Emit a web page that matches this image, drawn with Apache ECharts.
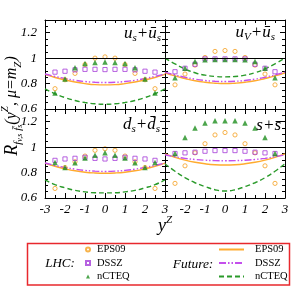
<!DOCTYPE html>
<html><head><meta charset="utf-8">
<script src="https://cdn.jsdelivr.net/npm/echarts@6/dist/echarts.min.js"></script>
<style>html,body{margin:0;padding:0;background:#fff}#c{width:293px;height:287px}</style>
</head><body><div id="c"></div>
<script>
// ---- data ----
const xPoints = [-2.5,-2,-1.5,-1,-0.5,0,0.5,1,1.5,2,2.5];
const xCurve  = [-3,-2.5,-2,-1.5,-1,-0.5,0,0.5,1,1.5,2,2.5,3];
const xTickLabels = ['-3','-2','-1','0','1','2','3'];
const yTickLabels = ['0.6','0.8','1','1.2'];
const legendNames = ['EPS09','DSSZ','nCTEQ'];

// panel 1: u_s + ubar_s
const lhcEps_us   = [0.76,0.83,0.88,0.95,1.0,1.01,1.0,0.95,0.88,0.83,0.76];
const lhcDssz_us  = [0.89,0.897,0.908,0.912,0.912,0.91,0.912,0.912,0.908,0.897,0.89];
const lhcNcteq_us = [0.725,0.835,0.925,0.957,0.965,0.97,0.965,0.957,0.925,0.835,0.725];
const futEps_us   = [0.872,0.848,0.828,0.812,0.8,0.792,0.79,0.792,0.8,0.812,0.828,0.848,0.872];
const futDssz_us  = [0.875,0.856,0.84,0.826,0.816,0.81,0.808,0.81,0.816,0.826,0.84,0.856,0.875];
const futNcteq_us = [0.758,0.72,0.69,0.667,0.651,0.641,0.637,0.641,0.651,0.667,0.69,0.72,0.758];

// panel 2: u_v + ubar_s
const lhcEps_uv   = [0.79,0.875,0.945,1.005,1.053,1.06,1.053,1.005,0.945,0.875,0.79];
const lhcDssz_uv  = [0.893,0.92,0.952,0.994,0.994,0.994,0.994,0.994,0.952,0.92,0.893];
const lhcNcteq_uv = [0.845,0.92,0.973,0.988,0.99,0.99,0.99,0.988,0.973,0.92,0.845];
const futEps_uv   = [0.885,0.86,0.84,0.822,0.81,0.803,0.8,0.803,0.81,0.822,0.84,0.86,0.885];
const futDssz_uv  = [0.89,0.868,0.85,0.835,0.824,0.818,0.816,0.818,0.824,0.835,0.85,0.868,0.89];
const futNcteq_uv = [1.0,0.955,0.915,0.885,0.866,0.856,0.853,0.856,0.866,0.885,0.915,0.955,1.0];

// panel 3: d_s + dbar_s
const lhcEps_ds   = [0.675,0.84,0.885,0.93,0.975,0.987,0.975,0.93,0.885,0.84,0.675];
const lhcDssz_ds  = [0.896,0.907,0.912,0.92,0.912,0.907,0.912,0.92,0.912,0.907,0.896];
const lhcNcteq_ds = [0.88,0.84,0.878,0.915,0.936,0.955,0.936,0.915,0.878,0.84,0.88];
const futEps_ds   = [0.875,0.85,0.83,0.814,0.803,0.797,0.795,0.797,0.803,0.814,0.83,0.85,0.875];
const futDssz_ds  = [0.875,0.856,0.84,0.827,0.817,0.811,0.809,0.811,0.817,0.827,0.84,0.856,0.875];
const futNcteq_ds = [0.742,0.705,0.68,0.66,0.648,0.641,0.64,0.641,0.648,0.66,0.68,0.705,0.742];

// panel 4: s + sbar
const lhcEps_s    = [0.715,0.853,0.955,1.027,1.096,1.115,1.096,1.027,0.955,0.853,0.715];
const lhcDssz_s   = [0.95,0.955,0.96,0.968,0.973,0.973,0.973,0.968,0.96,0.955,0.95];
const lhcNcteq_s  = [0.95,1.075,1.15,1.19,1.208,1.208,1.208,1.19,1.15,1.075,0.95];
const futEps_s    = [0.947,0.92,0.898,0.881,0.869,0.862,0.86,0.862,0.869,0.881,0.898,0.92,0.947];
const futDssz_s   = [0.94,0.925,0.912,0.903,0.897,0.894,0.893,0.894,0.897,0.903,0.912,0.925,0.94];
const futNcteq_s  = [0.87,0.81,0.76,0.72,0.69,0.665,0.655,0.665,0.69,0.72,0.76,0.81,0.87];

// ---- styling ----
const F = 'Liberation Serif';
const C_EPS = '#f5a01e', C_DSSZ = '#a43ad8', C_NCTEQ = '#1f8f1f';
const L_EPS = '#ffab2e', L_DSSZ = '#c44fec', L_NCTEQ = '#2a9a2a';

const panels = [
  {lhc:[lhcEps_us,lhcDssz_us,lhcNcteq_us], fut:[futEps_us,futDssz_us,futNcteq_us]},
  {lhc:[lhcEps_uv,lhcDssz_uv,lhcNcteq_uv], fut:[futEps_uv,futDssz_uv,futNcteq_uv]},
  {lhc:[lhcEps_ds,lhcDssz_ds,lhcNcteq_ds], fut:[futEps_ds,futDssz_ds,futNcteq_ds]},
  {lhc:[lhcEps_s,lhcDssz_s,lhcNcteq_s], fut:[futEps_s,futDssz_s,futNcteq_s]}
];
const gridPos = [[45,20],[165,20],[45,109],[165,109]];

const grids = gridPos.map(p => ({left:p[0], top:p[1], width:120, height:89, show:false}));

const tickStyle = {color:'#000', width:1};
function xAx(i, pos, showLabel, hideMin) {
  return {type:'value', gridIndex:i, position:pos, min:-3, max:3, interval:1,
    axisLine:{onZero:false, lineStyle:{color:'#000', width:1}},
    axisTick:{inside:true, length:5, lineStyle:tickStyle},
    minorTick:{show:true, splitNumber:2, length:3, lineStyle:tickStyle},
    splitLine:{show:false}, minorSplitLine:{show:false},
    axisLabel:{show:showLabel, margin:5, showMinLabel:!hideMin, showMaxLabel:true,
      fontFamily:F, fontStyle:'italic', fontSize:13, color:'#000',
      formatter: v => xTickLabels[Math.round(v)+3] || ''}};
}
function yAx(i, pos, showLabel) {
  return {type:'value', gridIndex:i, position:pos, min:0.6, max:1.3, interval:0.2,
    axisLine:{onZero:false, lineStyle:{color:'#000', width:1}},
    axisTick:{inside:true, length:5, lineStyle:tickStyle},
    minorTick:{show:true, splitNumber:4, length:3, lineStyle:tickStyle},
    splitLine:{show:false}, minorSplitLine:{show:false},
    axisLabel:{show:showLabel, margin:8, showMaxLabel:false, showMinLabel:true,
      fontFamily:F, fontStyle:'italic', fontSize:13, color:'#000',
      formatter: v => { const k = Math.round((v-0.6)/0.2); return Math.abs(v-(0.6+0.2*k))<1e-6 ? (yTickLabels[k]||'') : ''; }}};
}
const xAxes = [], yAxes = [];
for (let i=0;i<4;i++) {
  xAxes.push(xAx(i,'bottom', i>=2, i===3));
  xAxes.push(xAx(i,'top', false, false));
  yAxes.push(yAx(i,'left', i===0 || i===2));
  yAxes.push(yAx(i,'right', false));
}

const series = [];
const futNames = ['EPS09 Future','DSSZ Future','nCTEQ Future'];
const lineCols = [L_EPS, L_DSSZ, L_NCTEQ];
const lineTypes = ['solid', [7,2,1.5,2,1.5,2], [5,3]];
panels.forEach((p,i) => {
  p.fut.forEach((arr,k) => {
    const s = {type:'line', name:futNames[k], xAxisIndex:2*i, yAxisIndex:2*i,
      data: xCurve.map((x,j)=>[x,arr[j]]), smooth:true, symbol:'none', z:2,
      lineStyle:{color:lineCols[k], width:1.4, type:lineTypes[k]}, itemStyle:{color:lineCols[k]}};
    if (k===0) s.markLine = {silent:true, symbol:'none', label:{show:false},
      lineStyle:{color:'#000', width:1, type:'solid'}, data:[{yAxis:1}]};
    series.push(s);
  });
  const sym = ['circle','rect','triangle'];
  const size = [4.2,4.2,5.5];
  const styles = [
    {color:'rgba(255,255,255,0)', borderColor:C_EPS, borderWidth:1},
    {color:'rgba(255,255,255,0)', borderColor:C_DSSZ, borderWidth:1},
    {color:C_NCTEQ, borderWidth:0}
  ];
  p.lhc.forEach((arr,k) => {
    series.push({type:'scatter', name:legendNames[k], xAxisIndex:2*i, yAxisIndex:2*i,
      data: xPoints.map((x,j)=>[x,arr[j]]), symbol:sym[k], symbolSize:size[k], z:3,
      itemStyle:styles[k]});
  });
});

const panelText = [
  {x:161, y:34, text:'{m|u}{s|s}{m|+ū}{s|s}'},
  {x:275, y:33, text:'{m|u}{s|V}{m|+ū}{s|s}'},
  {x:160, y:125, text:'{m|d}{s|s}{m|+d\u0304}{s|s}'},
  {x:281, y:126, text:'{m|s+s\u0304}'}
];
const labRich = {
  m:{fontFamily:F, fontStyle:'italic', fontSize:17, lineHeight:20, color:'#000'},
  s:{fontFamily:F, fontStyle:'italic', fontSize:11, lineHeight:11, verticalAlign:'bottom', color:'#000'}
};
const graphics = panelText.map(t => ({type:'text', x:t.x, y:t.y, z:10,
  style:{text:t.text, rich:labRich, align:'right', verticalAlign:'middle'}}));

// y title
graphics.push({type:'text', x:12, y:106, rotation:Math.PI/2, z:10,
  style:{text:'{R|R}{s1|f}{s2|v,s}{s1| f\u0304}{s2|s}{m|(y}{sp|Z}{m|, μ=m}{s1|Z}{m|)}',
    align:'center', verticalAlign:'middle',
    rich:{
      R:{fontFamily:F, fontStyle:'italic', fontSize:18, lineHeight:24, color:'#000'},
      m:{fontFamily:F, fontStyle:'italic', fontSize:16, lineHeight:24, color:'#000'},
      s1:{fontFamily:F, fontStyle:'italic', fontSize:11, lineHeight:11, verticalAlign:'bottom', color:'#000'},
      s2:{fontFamily:F, fontStyle:'italic', fontSize:8, lineHeight:5, verticalAlign:'bottom', color:'#000'},
      sp:{fontFamily:F, fontStyle:'italic', fontSize:11, lineHeight:11, verticalAlign:'top', color:'#000'}
    }}});
// x title
graphics.push({type:'text', x:165, y:226, z:10,
  style:{text:'{m|y}{sp|Z}', align:'center', verticalAlign:'middle',
    rich:{m:{fontFamily:F, fontStyle:'italic', fontSize:18, lineHeight:22, color:'#000'},
          sp:{fontFamily:F, fontStyle:'italic', fontSize:11, lineHeight:11, verticalAlign:'top', color:'#000'}}}});
// legend frame and group titles
graphics.push({type:'rect', z:1, shape:{x:27.5, y:243.5, width:262, height:41.5},
  style:{fill:'none', stroke:'#e8282d', lineWidth:1.5}});
graphics.push({type:'text', x:60, y:264, z:10, style:{text:'LHC:', fontFamily:F, fontStyle:'italic', fontSize:13, fill:'#000', align:'center', verticalAlign:'middle'}});
graphics.push({type:'text', x:193, y:264, z:10, style:{text:'Future:', fontFamily:F, fontStyle:'italic', fontSize:13.5, fill:'#000', align:'center', verticalAlign:'middle'}});

const option = {
  animation:false,
  backgroundColor:'#fff',
  grid:grids, xAxis:xAxes, yAxis:yAxes, series:series,
  legend:[
    {data:legendNames, orient:'vertical', left:85, top:243, padding:0, itemGap:0.5,
     itemWidth:4, itemHeight:4, selectedMode:false,
     textStyle:{fontFamily:F, fontSize:10.5, color:'#000', lineHeight:13, padding:[0,0,0,2]}},
    {data:futNames, orient:'vertical', left:218, top:243, padding:0, itemGap:0.5,
     itemWidth:25, itemHeight:10, selectedMode:false,
     itemStyle:{color:'rgba(0,0,0,0)', borderColor:'rgba(0,0,0,0)', borderWidth:0, opacity:0},
     formatter: n => n.replace(' Future',''),
     textStyle:{fontFamily:F, fontSize:10.5, color:'#000', lineHeight:13, padding:[0,0,0,6]}}
  ],
  graphic:graphics
};
const chart = echarts.init(document.getElementById('c'), null, {renderer:'canvas'});
chart.setOption(option);
</script></body></html>
